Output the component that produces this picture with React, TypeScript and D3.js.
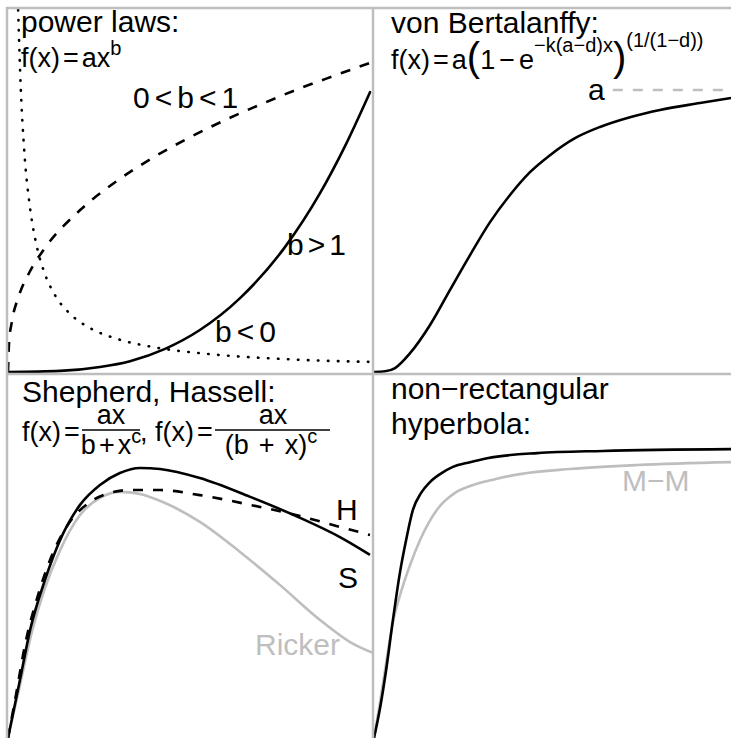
import React from 'react';
import * as d3 from 'd3';

const W = 731;
const H = 738;
const FONT = '"Liberation Sans", Arial, Helvetica, sans-serif';
const GRAY = '#bebebe';
const MINUS = '\u2212';

// ---- panel 1: power laws (x, y in relative units) ----
const powerBgt1: [number, number][] = [
  [0, 0], [0.144, 0.003], [0.254, 0.014], [0.337, 0.03], [0.434, 0.064], [0.53, 0.116],
  [0.641, 0.204], [0.765, 0.345], [0.862, 0.494], [0.931, 0.624], [1.0, 0.773],
];
const powerB01: [number, number][] = [
  [0, 0], [0.003, 0.083], [0.01, 0.135], [0.03, 0.21], [0.06, 0.277], [0.1, 0.34], [0.2, 0.448],
  [0.3, 0.527], [0.4, 0.592], [0.5, 0.647], [0.6, 0.696], [0.7, 0.74], [0.8, 0.781],
  [0.9, 0.818], [1.0, 0.854],
];
const powerBlt0: [number, number][] = [
  [0.028, 1.0], [0.035, 0.79], [0.045, 0.61], [0.06, 0.46], [0.08, 0.345], [0.1, 0.276],
  [0.13, 0.212], [0.17, 0.162], [0.22, 0.125], [0.3, 0.092], [0.4, 0.069], [0.55, 0.05],
  [0.7, 0.039], [0.85, 0.032], [1.0, 0.028],
];

// ---- panel 2: von Bertalanffy ----
const vonB: [number, number][] = [
  [0, 0], [0.031, 0.002], [0.059, 0.011], [0.101, 0.052], [0.157, 0.13], [0.213, 0.227],
  [0.269, 0.323], [0.325, 0.414], [0.381, 0.489], [0.437, 0.552], [0.493, 0.599],
  [0.563, 0.646], [0.633, 0.677], [0.717, 0.704], [0.801, 0.724], [0.913, 0.743], [1.0, 0.757],
];
const vonBAsym = 0.779;
const vonBAsymFrom = 0.669;

// ---- panel 3: Shepherd, Hassell, Ricker ----
const shepherd: [number, number][] = [
  [0, 0], [0.033, 0.16], [0.061, 0.298], [0.102, 0.436], [0.144, 0.547], [0.199, 0.644],
  [0.254, 0.699], [0.309, 0.732], [0.365, 0.746], [0.42, 0.743], [0.53, 0.718],
  [0.669, 0.666], [0.807, 0.608], [0.917, 0.555], [1.0, 0.506],
];
const hassell: [number, number][] = [
  [0, 0], [0.022, 0.119], [0.047, 0.257], [0.083, 0.395], [0.122, 0.506], [0.171, 0.597],
  [0.227, 0.652], [0.282, 0.677], [0.337, 0.685], [0.42, 0.685], [0.53, 0.671],
  [0.669, 0.644], [0.807, 0.613], [0.917, 0.583], [1.0, 0.561],
];
const ricker: [number, number][] = [
  [0, 0], [0.033, 0.146], [0.066, 0.293], [0.102, 0.414], [0.144, 0.519], [0.199, 0.616],
  [0.254, 0.663], [0.309, 0.68], [0.365, 0.674], [0.434, 0.649], [0.53, 0.597],
  [0.641, 0.514], [0.751, 0.423], [0.862, 0.326], [0.945, 0.265], [1.008, 0.235],
];

// ---- panel 4: non-rectangular hyperbola, Michaelis-Menten ----
const nrh: [number, number][] = [
  [0, 0], [0.017, 0.083], [0.034, 0.188], [0.053, 0.326], [0.073, 0.459], [0.09, 0.547],
  [0.109, 0.63], [0.132, 0.677], [0.157, 0.707], [0.185, 0.729], [0.221, 0.749],
  [0.269, 0.762], [0.317, 0.773], [0.457, 0.787], [0.641, 0.793], [1.0, 0.798],
];
const mm: [number, number][] = [
  [0, 0], [0.017, 0.099], [0.034, 0.207], [0.053, 0.32], [0.073, 0.395], [0.101, 0.478],
  [0.129, 0.547], [0.176, 0.63], [0.227, 0.677], [0.269, 0.696], [0.339, 0.715],
  [0.409, 0.729], [0.549, 0.743], [0.737, 0.754], [1.0, 0.762],
];

const titles = ['power laws:', 'von Bertalanffy:', 'Shepherd, Hassell:', `non${MINUS}rectangular`, 'hyperbola:'];
const labelB01 = ['0', '<', 'b', '<', '1'];
const labelBgt1 = ['b', '>', '1'];
const labelBlt0 = ['b', '<', '0'];
const curveLabels = ['a', 'H', 'S', 'Ricker', `M${MINUS}M`];

type Pt = [number, number];

// tokens separated by a small gap (plotmath-like spacing)
function Tokens({ tokens, gap }: { tokens: string[]; gap: number }) {
  return (
    <>
      {tokens.map((t, i) => (
        <tspan key={i} dx={i === 0 ? 0 : gap}>{t}</tspan>
      ))}
    </>
  );
}

export default function App() {
  const xL = d3.scaleLinear().domain([0, 1]).range([8, 370]);
  const xR = d3.scaleLinear().domain([0, 1]).range([374, 731]);
  const yT = d3.scaleLinear().domain([0, 1]).range([372, 10]);
  const yB = d3.scaleLinear().domain([0, 1]).range([738, 376]);

  const path = (sx: d3.ScaleLinear<number, number>, sy: d3.ScaleLinear<number, number>, data: Pt[]) =>
    d3.line<Pt>().x((d) => sx(d[0])).y((d) => sy(d[1])).curve(d3.curveMonotoneX)(data) || '';

  const lw = 2.6;
  const ts = { fontFamily: FONT, fontSize: 30 } as React.CSSProperties;
  const fs = 27; // formula font size
  const ss = 20; // superscript size

  return (
    <svg width={W} height={H} style={{ position: 'fixed', left: 0, top: 0, background: '#fff' }}>
      <defs>
        <clipPath id="cTL"><rect x={7} y={8} width={366} height={366} /></clipPath>
        <clipPath id="cTR"><rect x={373} y={8} width={358} height={366} /></clipPath>
        <clipPath id="cBL"><rect x={7} y={374} width={366} height={364} /></clipPath>
        <clipPath id="cBR"><rect x={373} y={374} width={358} height={364} /></clipPath>
      </defs>
      <rect x={0} y={0} width={W} height={H} fill="#fff" />

      {/* panel 1 */}
      <g clipPath="url(#cTL)" fill="none" stroke="#000" strokeWidth={lw} strokeLinecap="round">
        <path d={path(xL, yT, powerBgt1)} />
        <path d={path(xL, yT, powerB01)} strokeDasharray="10 10" strokeLinecap="butt" />
        <path d={path(xL, yT, powerBlt0)} strokeDasharray="0.5 9.5" />
      </g>
      {/* panel 2 */}
      <g clipPath="url(#cTR)" fill="none" strokeWidth={lw}>
        <line x1={xR(vonBAsymFrom)} x2={xR(1)} y1={yT(vonBAsym)} y2={yT(vonBAsym)} stroke={GRAY} strokeDasharray="10 10" />
        <path d={path(xR, yT, vonB)} stroke="#000" />
      </g>
      {/* panel 3 */}
      <g clipPath="url(#cBL)" fill="none" strokeWidth={lw}>
        <path d={path(xL, yB, ricker)} stroke={GRAY} />
        <path d={path(xL, yB, hassell)} stroke="#000" strokeDasharray="10 10" />
        <path d={path(xL, yB, shepherd)} stroke="#000" />
      </g>
      {/* panel 4 */}
      <g clipPath="url(#cBR)" fill="none" strokeWidth={lw}>
        <path d={path(xR, yB, mm)} stroke={GRAY} />
        <path d={path(xR, yB, nrh)} stroke="#000" />
      </g>

      {/* frame lines */}
      <g stroke={GRAY} strokeWidth={2.5}>
        <line x1={6} x2={W} y1={8} y2={8} />
        <line x1={6} x2={W} y1={374} y2={374} />
        <line x1={7} x2={7} y1={7} y2={H} />
        <line x1={373} x2={373} y1={7} y2={H} />
      </g>

      <g style={ts} fill="#000">
        {/* panel 1 */}
        <text x={21} y={32}>{titles[0]}</text>
        <text x={21} y={67} fontSize={fs}>
          f(x)<tspan dx={3}>=</tspan><tspan dx={3}>ax</tspan>
          <tspan fontSize={ss} dy={-12}>b</tspan>
        </text>
        <text x={133} y={108}><Tokens tokens={labelB01} gap={5} /></text>
        <text x={287} y={255}><Tokens tokens={labelBgt1} gap={4} /></text>
        <text x={215} y={342}><Tokens tokens={labelBlt0} gap={5} /></text>

        {/* panel 2 */}
        <text x={391} y={33}>{titles[1]}</text>
        <text x={391} y={69} fontSize={fs}>
          f(x)<tspan dx={3}>=</tspan><tspan dx={3}>a</tspan>
          <tspan fontSize={40} dy={2}>(</tspan>
          <tspan dy={-2}>1</tspan><tspan dx={4}>{MINUS}</tspan><tspan dx={4}>e</tspan>
          <tspan fontSize={ss} dy={-17}>{MINUS}k(a{MINUS}d)x</tspan>
          <tspan fontSize={40} dy={19}>)</tspan>
          <tspan fontSize={ss} dy={-24}>(1/(1{MINUS}d))</tspan>
        </text>
        <text x={588} y={100}>{curveLabels[0]}</text>

        {/* panel 3 */}
        <text x={22} y={402}>{titles[2]}</text>
        <text x={22} y={441} fontSize={fs}>f(x)<tspan dx={3}>=</tspan></text>
        <text x={111} y={424} fontSize={fs} textAnchor="middle">ax</text>
        <line x1={82} x2={140} y1={430} y2={430} stroke="#000" strokeWidth={1.5} />
        <text x={111} y={454} fontSize={fs} textAnchor="middle">
          b<tspan dx={3}>+</tspan><tspan dx={3}>x</tspan><tspan fontSize={ss} dy={-11}>c</tspan>
        </text>
        <text x={140} y={441} fontSize={fs}>,</text>
        <text x={155} y={441} fontSize={fs}>f(x)<tspan dx={3}>=</tspan></text>
        <text x={273} y={424} fontSize={fs} textAnchor="middle">ax</text>
        <line x1={215} x2={330} y1={430} y2={430} stroke="#000" strokeWidth={1.5} />
        <text x={271} y={454} fontSize={fs} textAnchor="middle">
          (b<tspan dx={10}>+</tspan><tspan dx={10}>x)</tspan><tspan fontSize={ss} dy={-11}>c</tspan>
        </text>
        <text x={336} y={520}>{curveLabels[1]}</text>
        <text x={338} y={588}>{curveLabels[2]}</text>
        <text x={255} y={655} fill={GRAY}>{curveLabels[3]}</text>

        {/* panel 4 */}
        <text x={391} y={399}>{titles[3]}</text>
        <text x={391} y={434}>{titles[4]}</text>
        <text x={622} y={491} fill={GRAY}>{curveLabels[4]}</text>
      </g>
    </svg>
  );
}
